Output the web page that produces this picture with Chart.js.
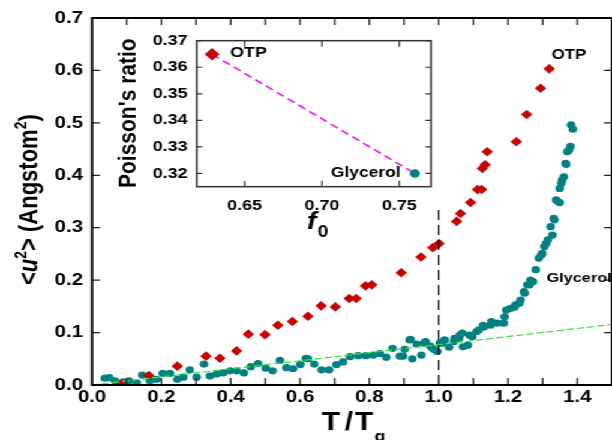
<!DOCTYPE html>
<html lang="en">
<head>
<meta charset="UTF-8" />
<title>Mean square displacement vs T/Tg</title>
<script src="https://cdn.jsdelivr.net/npm/chart.js"></script>
<style>
  html, body { margin: 0; padding: 0; background: #fff; }
  body { width: 612px; height: 440px; overflow: hidden; }
  /* the original figure is stretched horizontally, so draw narrow and stretch */
  #stage { position: relative; width: 510px; height: 440px; transform: scaleX(1.2); transform-origin: 0 0; }
  #mainChart { position: absolute; left: 0; top: 0; }
  #insetChart { position: absolute; left: 70px; top: 20px; }
</style>
</head>
<body>
<div id="stage">
  <canvas id="mainChart" width="510" height="440"></canvas>
  <canvas id="insetChart" width="300" height="230"></canvas>
</div>

<script>
const xTicks = [0, 0.2, 0.4, 0.6, 0.8, 1.0, 1.2, 1.4];
const yTicks = [0, 0.1, 0.2, 0.3, 0.4, 0.5, 0.6, 0.7];

// OTP (red diamonds)
const otpT  = [0.084, 0.164, 0.246, 0.329, 0.369, 0.417, 0.451, 0.499, 0.536, 0.578, 0.623, 0.661, 0.702,
               0.742, 0.762, 0.789, 0.807, 0.892, 0.949, 0.983, 1.001, 1.052, 1.063, 1.092, 1.112, 1.124,
               1.126, 1.134, 1.140, 1.224, 1.254, 1.294, 1.319];
const otpU2 = [0.002, 0.018, 0.036, 0.055, 0.051, 0.065, 0.097, 0.096, 0.114, 0.121, 0.131, 0.151, 0.149,
               0.165, 0.165, 0.189, 0.191, 0.214, 0.244, 0.262, 0.270, 0.312, 0.327, 0.348, 0.373, 0.373,
               0.413, 0.420, 0.445, 0.464, 0.516, 0.566, 0.603];

// Glycerol (teal circles)
const glyT  = [0.037, 0.050, 0.066, 0.090, 0.107, 0.129, 0.145, 0.167, 0.186, 0.204, 0.225, 0.246, 0.263,
               0.282, 0.302, 0.323, 0.340, 0.359, 0.378, 0.398, 0.417, 0.438, 0.458, 0.479, 0.501, 0.521,
               0.542, 0.561, 0.580, 0.601, 0.617, 0.623, 0.641, 0.662, 0.684, 0.705, 0.724, 0.744, 0.768,
               0.790, 0.811, 0.830, 0.849, 0.867, 0.888, 0.897, 0.902, 0.916, 0.919, 0.924, 0.936, 0.950,
               0.958, 0.962, 0.976, 0.982, 0.988, 0.996, 1.003, 1.011, 1.017, 1.030, 1.044, 1.046, 1.059,
               1.061, 1.068, 1.070, 1.084, 1.089, 1.097, 1.109, 1.116, 1.128, 1.131, 1.150, 1.152, 1.169,
               1.188, 1.190, 1.195, 1.207, 1.219, 1.222, 1.233, 1.236, 1.246, 1.248, 1.256, 1.262, 1.265,
               1.272, 1.280, 1.289, 1.296, 1.299, 1.305, 1.310, 1.315, 1.323, 1.328, 1.332, 1.334, 1.339,
               1.344, 1.349, 1.349, 1.354, 1.356, 1.361, 1.366, 1.368, 1.371, 1.376, 1.380, 1.382, 1.387];
const glyU2 = [0.013, 0.014, 0.008, 0.006, 0.008, 0.004, 0.019, 0.008, 0.011, 0.022, 0.022, 0.011, 0.015,
               0.029, 0.015, 0.040, 0.017, 0.021, 0.023, 0.027, 0.027, 0.023, 0.035, 0.041, 0.032, 0.027,
               0.047, 0.033, 0.031, 0.039, 0.051, 0.050, 0.040, 0.029, 0.029, 0.039, 0.044, 0.054, 0.056,
               0.056, 0.057, 0.060, 0.053, 0.070, 0.055, 0.055, 0.068, 0.086, 0.087, 0.050, 0.078, 0.057,
               0.080, 0.083, 0.074, 0.070, 0.067, 0.064, 0.080, 0.080, 0.086, 0.072, 0.083, 0.089, 0.089,
               0.095, 0.099, 0.073, 0.076, 0.095, 0.092, 0.102, 0.105, 0.114, 0.111, 0.114, 0.121, 0.118,
               0.118, 0.130, 0.143, 0.146, 0.149, 0.153, 0.156, 0.162, 0.178, 0.175, 0.191, 0.191, 0.200,
               0.197, 0.220, 0.242, 0.248, 0.251, 0.264, 0.270, 0.277, 0.302, 0.286, 0.318, 0.315, 0.353,
               0.350, 0.348, 0.375, 0.385, 0.391, 0.397, 0.423, 0.421, 0.445, 0.448, 0.455, 0.496, 0.488];

// low temperature linear fit (green dashed) and T = Tg marker
const fitT  = [0, 1.5];
const fitU2 = [0, 0.1155];
const tgT   = [1.0, 1.0];
const tgU2  = [0, 0.338];

// inset: Poisson's ratio vs f0
const insetF0 = [0.629, 0.760];
const insetNu = [0.3649, 0.320];
const insetXTicks = [0.65, 0.70, 0.75];
const insetYTicks = [0.32, 0.33, 0.34, 0.35, 0.36, 0.37];

const FAM = '"Liberation Sans", Arial, Helvetica, sans-serif';
const RED = '#cc0000';
const TEAL = '#008080';

const pts = (xs, ys) => xs.map((x, i) => ({ x: x, y: ys[i] }));
const tickFont = size => ({ family: FAM, size: size, weight: 'bold' });

// draw a row of text pieces (for sub/superscripts)
function drawRuns(ctx, x, y, runs) {
  let cx = x;
  runs.forEach(r => {
    ctx.font = r.font;
    cx += (r.dx || 0);
    ctx.fillText(r.t, cx, y + (r.dy || 0));
    cx += ctx.measureText(r.t).width;
  });
}

// inward ticks on all four sides
function tickMarks(ctx, chart, xs, ys, xLen, yLen) {
  const a = chart.chartArea, sx = chart.scales.x, sy = chart.scales.y;
  ctx.beginPath();
  xs.forEach(v => {
    const px = sx.getPixelForValue(v);
    ctx.moveTo(px, a.bottom); ctx.lineTo(px, a.bottom - xLen);
    ctx.moveTo(px, a.top); ctx.lineTo(px, a.top + xLen);
  });
  ys.forEach(v => {
    const py = sy.getPixelForValue(v);
    ctx.moveTo(a.left, py); ctx.lineTo(a.left + yLen, py);
    ctx.moveTo(a.right, py); ctx.lineTo(a.right - yLen, py);
  });
  ctx.stroke();
}

const mainDecor = {
  id: 'mainDecor',
  afterDraw(chart) {
    const ctx = chart.ctx, a = chart.chartArea;
    ctx.save();
    const minor = [];
    for (let i = 1; i <= 14; i++) minor.push(i / 10);
    ctx.strokeStyle = '#222';
    ctx.lineWidth = 1.3;
    tickMarks(ctx, chart, minor, yTicks, 7, 6.7);
    ctx.strokeStyle = '#000';
    ctx.lineWidth = 2;
    ctx.strokeRect(a.left, a.top, a.right - a.left, a.bottom - a.top);

    ctx.fillStyle = '#000';
    ctx.textAlign = 'left';
    ctx.textBaseline = 'alphabetic';
    // y title
    ctx.save();
    ctx.translate(30.8, 285);
    ctx.rotate(-Math.PI / 2);
    const b22 = 'bold 22px ' + FAM, sup = 'bold 14px ' + FAM;
    drawRuns(ctx, 0, 0, [
      { t: '<', font: b22 },
      { t: 'u', font: 'italic bold 22px ' + FAM },
      { t: '2', font: sup, dy: -9 },
      { t: '>', font: b22 },
      { t: ' (Angstom', font: b22 },
      { t: '2', font: sup, dy: -9 },
      { t: ')', font: b22 }
    ]);
    ctx.restore();
    // x title
    const b25 = 'bold 25px ' + FAM;
    drawRuns(ctx, 268.1, 430, [
      { t: 'T', font: b25 },
      { t: '/', font: b25, dx: 4 },
      { t: 'T', font: b25, dx: 1.5 },
      { t: 'g', font: 'bold 15px ' + FAM, dy: 11, dx: 1 }
    ]);
    // series labels
    ctx.font = 'bold 14px ' + FAM;
    ctx.fillText('OTP', 459.7, 59.3);
    ctx.font = 'bold 13.5px ' + FAM;
    ctx.fillText('Glycerol', 455.6, 281.7);
    ctx.restore();
  }
};

const insetDecor = {
  id: 'insetDecor',
  afterDraw(chart) {
    const ctx = chart.ctx, a = chart.chartArea;
    ctx.save();
    ctx.strokeStyle = '#333';
    ctx.lineWidth = 1.2;
    tickMarks(ctx, chart, insetXTicks, insetYTicks, 6, 4.7);
    ctx.lineWidth = 1.5;
    ctx.strokeRect(a.left, a.top, a.right - a.left, a.bottom - a.top);

    ctx.fillStyle = '#000';
    ctx.textAlign = 'left';
    ctx.textBaseline = 'alphabetic';
    ctx.save();
    ctx.translate(43.3, 168);
    ctx.rotate(-Math.PI / 2);
    ctx.font = 'bold 21px ' + FAM;
    ctx.fillText("Poisson's ratio", 0, 0);
    ctx.restore();
    drawRuns(ctx, 185.8, 209, [
      { t: 'f', font: 'italic bold 24px ' + FAM },
      { t: '0', font: 'bold 16px ' + FAM, dy: 7.7, dx: 1 }
    ]);
    ctx.font = 'bold 15px ' + FAM;
    ctx.fillText('OTP', 121.7, 37.3);
    ctx.font = 'bold 14.5px ' + FAM;
    ctx.fillText('Glycerol', 205.8, 157);
    ctx.restore();
  }
};

new Chart(document.getElementById('mainChart'), {
  type: 'scatter',
  data: {
    datasets: [
      { data: pts(fitT, fitU2), showLine: true, pointRadius: 0, borderColor: '#33e633', borderWidth: 1.2, borderDash: [6, 2.5] },
      { data: pts(tgT, tgU2), showLine: true, pointRadius: 0, borderColor: '#000', borderWidth: 1.2, borderDash: [10, 5] },
      { data: pts(otpT, otpU2), pointStyle: 'rectRot', pointRadius: 4.8, backgroundColor: RED, borderColor: RED, borderWidth: 0 },
      { data: pts(glyT, glyU2), pointStyle: 'circle', pointRadius: 3.6, backgroundColor: TEAL, borderColor: TEAL, borderWidth: 0 }
    ]
  },
  options: {
    responsive: false,
    animation: false,
    events: [],
    layout: { autoPadding: false, padding: { top: 18, right: 0, left: 0, bottom: 0 } },
    plugins: { legend: { display: false }, tooltip: { enabled: false } },
    scales: {
      x: {
        type: 'linear', min: 0, max: 1.5,
        grid: { display: false, drawTicks: false }, border: { display: false },
        afterBuildTicks: s => { s.ticks = xTicks.map(v => ({ value: v })); },
        afterFit: s => { s.height = 55; s.paddingLeft = 0; s.paddingRight = 0; },
        ticks: { padding: 2, color: '#000', font: tickFont(17), maxRotation: 0, autoSkip: false, callback: v => v.toFixed(1) }
      },
      y: {
        type: 'linear', min: 0, max: 0.7,
        grid: { display: false, drawTicks: false }, border: { display: false },
        afterBuildTicks: s => { s.ticks = yTicks.map(v => ({ value: v })); },
        afterFit: s => { s.width = 76.7; s.paddingTop = 0; s.paddingBottom = 0; },
        ticks: { padding: 7.5, color: '#000', font: tickFont(17), autoSkip: false, callback: v => v.toFixed(1) }
      }
    }
  },
  plugins: [mainDecor]
});

new Chart(document.getElementById('insetChart'), {
  type: 'scatter',
  data: {
    datasets: [
      { data: pts(insetF0.slice(0, 1), insetNu.slice(0, 1)), pointStyle: 'rectRot', pointRadius: 6.2, backgroundColor: RED, borderColor: RED, borderWidth: 0 },
      { data: pts(insetF0.slice(1), insetNu.slice(1)), pointStyle: 'circle', pointRadius: 4.2, backgroundColor: TEAL, borderColor: TEAL, borderWidth: 0 },
      { data: pts(insetF0, insetNu), showLine: true, pointRadius: 0, borderColor: '#ff00ff', borderWidth: 1.5, borderDash: [7, 4] }
    ]
  },
  options: {
    responsive: false,
    animation: false,
    events: [],
    layout: { autoPadding: false, padding: { top: 20.7, right: 10.8, left: 0, bottom: 0 } },
    plugins: { legend: { display: false }, tooltip: { enabled: false } },
    scales: {
      x: {
        type: 'linear', min: 0.619, max: 0.7705,
        grid: { display: false, drawTicks: false }, border: { display: false },
        afterBuildTicks: s => { s.ticks = insetXTicks.map(v => ({ value: v })); },
        afterFit: s => { s.height = 63.3; s.paddingLeft = 0; s.paddingRight = 0; },
        ticks: { padding: 10, color: '#000', font: tickFont(15), maxRotation: 0, autoSkip: false, callback: v => v.toFixed(2) }
      },
      y: {
        type: 'linear', min: 0.315, max: 0.37,
        grid: { display: false, drawTicks: false }, border: { display: false },
        afterBuildTicks: s => { s.ticks = insetYTicks.map(v => ({ value: v })); },
        afterFit: s => { s.width = 93.9; s.paddingTop = 0; s.paddingBottom = 0; },
        ticks: { padding: 7.5, color: '#000', font: tickFont(15), autoSkip: false, callback: v => v.toFixed(2) }
      }
    }
  },
  plugins: [insetDecor]
});
</script>
</body>
</html>
